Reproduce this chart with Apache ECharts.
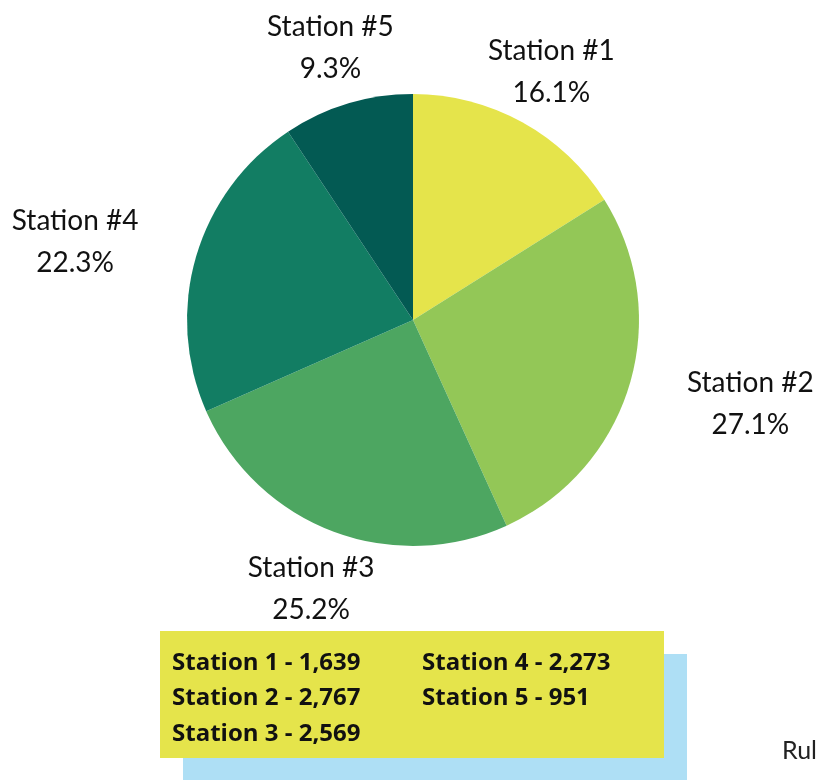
<!DOCTYPE html>
<html>
<head>
<meta charset="utf-8">
<script src="https://cdn.jsdelivr.net/npm/echarts@6/dist/echarts.min.js"></script>
<style>
html,body{margin:0;padding:0;background:#fff;}
#chart{width:818px;height:780px;}
</style>
</head>
<body>
<div id="chart"></div>
<script>
const categories = ['Station #1', 'Station #2', 'Station #3', 'Station #4', 'Station #5'];
const legendNames = ['Station 1', 'Station 2', 'Station 3', 'Station 4', 'Station 5'];
const values = [1639, 2767, 2569, 2273, 951];
const colors = ['#E5E44B', '#93C757', '#4DA661', '#127D63', '#035A53'];

function fmt(n) {
  return String(n).replace(/\B(?=(\d{3})+(?!\d))/g, ',');
}

const chart = echarts.init(document.getElementById('chart'));

const legendTexts = values.map((v, i) => {
  const col = i < 3 ? 0 : 1;
  const row = i % 3;
  return {
    type: 'text',
    left: [172, 422][col],
    top: [662, 697, 733][row] - 11,
    z: 10,
    style: {
      text: legendNames[i] + ' - ' + fmt(v),
      font: 'bold 24px "Open Sans"',
      fill: '#111'
    }
  };
});

chart.setOption({
  animation: false,
  color: colors,
  graphic: [
    { type: 'rect', z: 1, shape: { x: 183, y: 654, width: 504, height: 140 }, style: { fill: '#AEDFF5' } },
    { type: 'rect', z: 2, shape: { x: 160, y: 631, width: 504, height: 127 }, style: { fill: '#E5E44B' } },
    ...legendTexts,
    { type: 'text', left: 782, top: 738, z: 10, style: { text: 'Rule', font: '25px Lato', fill: '#222' } }
  ],
  series: [{
    type: 'pie',
    center: [413, 320],
    radius: 226,
    startAngle: 90,
    clockwise: true,
    percentPrecision: 1,
    avoidLabelOverlap: false,
    itemStyle: { borderWidth: 0 },
    label: {
      show: true,
      position: 'outside',
      formatter: '{b}\n{d}%',
      fontFamily: 'Lato',
      fontSize: 28,
      lineHeight: 42,
      color: '#111',
      align: 'center'
    },
    labelLine: { show: true, length: 60, length2: 0, lineStyle: { width: 0, opacity: 0 } },
    labelLayout: function (params) {
      const p = params.labelLinePoints;
      if (!p || p.length < 2) return {};
      const dx = p[1][0] - p[0][0], dy = p[1][1] - p[0][1];
      const len = Math.sqrt(dx * dx + dy * dy) || 1;
      const ux = dx / len;
      const w = params.labelRect ? params.labelRect.width : 0;
      let x = p[1][0];
      if (Math.abs(ux) > 0.9) x += (ux > 0 ? 1 : -1) * w / 2;
      return { x: x, y: p[1][1] + 2, align: 'center', verticalAlign: 'middle' };
    },
    emphasis: { disabled: true },
    data: categories.map((c, i) => ({ name: c, value: values[i] }))
  }]
});
</script>
</body>
</html>
